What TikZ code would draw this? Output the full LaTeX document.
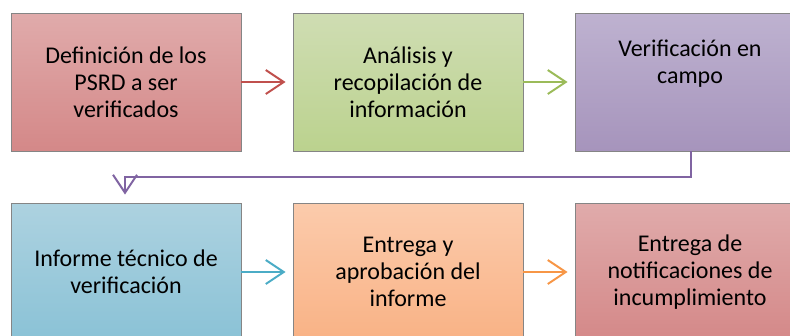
\documentclass[tikz,border=0pt]{standalone}
\usepackage{fontspec}
\setmainfont{Carlito}
\usetikzlibrary{arrows.meta}
\definecolor{redA}{HTML}{E0ABAB}
\definecolor{redB}{HTML}{D48888}
\definecolor{greenA}{HTML}{CFDDB3}
\definecolor{greenB}{HTML}{BBD28E}
\definecolor{purpA}{HTML}{BEB2D0}
\definecolor{purpB}{HTML}{A694BC}
\definecolor{blueA}{HTML}{ADD2E0}
\definecolor{blueB}{HTML}{8AC2D6}
\definecolor{orA}{HTML}{FBCBAC}
\definecolor{orB}{HTML}{F9B285}
\definecolor{lnred}{HTML}{C0504D}
\definecolor{lngreen}{HTML}{9BBB59}
\definecolor{lnpurp}{HTML}{8064A2}
\definecolor{lnblue}{HTML}{4BACC6}
\definecolor{lnor}{HTML}{F79646}
\definecolor{edge}{HTML}{858585}
\tikzset{
  box/.style={draw=edge, line width=0.8pt, minimum width=230pt, minimum height=138pt,
    inner sep=0pt, align=center, font=\fontsize{24}{26.8}\selectfont, text=black},
  txt/.style={inner sep=0pt, align=center, font=\fontsize{24}{26.8}\selectfont, text=black},
  conn/.style={line width=2pt, -{Straight Barb[length=18pt,width=24pt,line width=2pt]}},
}
\begin{document}
\begin{tikzpicture}[x=1pt,y=-1pt]
\useasboundingbox (0,0) rectangle (790,335);
\clip (0,0) rectangle (790,335);
\node[box, top color=redA, bottom color=redB] (b1) at (126,82) {Definición de los\\PSRD a ser\\verificados};
\node[box, top color=greenA, bottom color=greenB] (b2) at (408,82) {Análisis y\\recopilación de\\información};
\node[box, top color=purpA, bottom color=purpB] (b3) at (690,82) {};
\node[txt] (t3) at (690,64) {Verificación en\\campo};
\node[box, top color=blueA, bottom color=blueB] (b4) at (126,272) {Informe técnico de\\verificación};
\node[box, top color=orA, bottom color=orB] (b5) at (408,272) {Entrega y\\aprobación del\\informe};
\node[box, top color=redA, bottom color=redB] (b6) at (690,272) {Entrega de\\notificaciones de\\incumplimiento};
\draw[conn, lnred, shorten >=7pt] (b1.east) -- (b2.west);
\draw[conn, lngreen, shorten >=7pt] (b2.east) -- (b3.west);
\draw[conn, lnpurp, shorten >=8pt] ([xshift=1pt]b3.south) -- ++(0,26) -| ([xshift=-1pt]b4.north);
\draw[conn, lnblue, shorten >=7pt] (b4.east) -- (b5.west);
\draw[conn, lnor, shorten >=7pt] (b5.east) -- (b6.west);
\end{tikzpicture}
\end{document}
